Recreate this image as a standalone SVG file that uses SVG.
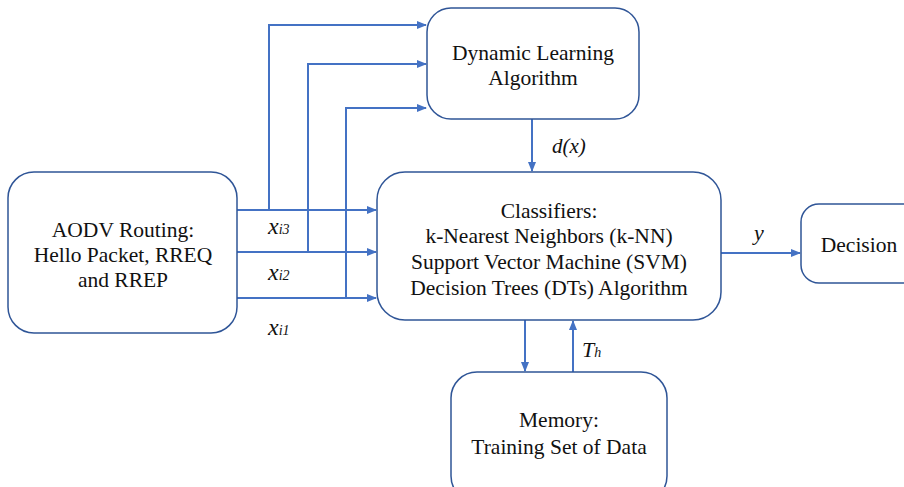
<svg xmlns="http://www.w3.org/2000/svg" width="904" height="487" viewBox="0 0 904 487">
<defs>
<marker id="ah" markerWidth="10" markerHeight="8" refX="9" refY="4" orient="auto" markerUnits="userSpaceOnUse">
<path d="M0,0 L10,4 L0,8 Z" fill="#4472C4"/>
</marker>
<style>
.box{fill:#fff;stroke:#2F5597;stroke-width:1.5}
.t{font-family:"Liberation Serif","Times New Roman",serif;font-size:21.5px;fill:#111;text-anchor:middle}
.i{font-family:"Liberation Serif","Times New Roman",serif;font-style:italic;fill:#111}
.c{fill:none;stroke:#4472C4;stroke-width:2}
</style>
</defs>
<rect width="904" height="487" fill="#fff"/>
<g id="connectors">
<path class="c" d="M237,210 H376" marker-end="url(#ah)"/>
<path class="c" d="M237,252 H376" marker-end="url(#ah)"/>
<path class="c" d="M237,298 H376" marker-end="url(#ah)"/>
<path class="c" d="M269,210 V25 H426" marker-end="url(#ah)"/>
<path class="c" d="M308,252 V64 H426" marker-end="url(#ah)"/>
<path class="c" d="M346,298 V108 H426" marker-end="url(#ah)"/>
<path class="c" d="M532,119 V171" marker-end="url(#ah)"/>
<path class="c" d="M525,320 V371" marker-end="url(#ah)"/>
<path class="c" d="M573,372 V321" marker-end="url(#ah)"/>
<path class="c" d="M721,253 H800" marker-end="url(#ah)"/>
</g>
<g id="labels">
<text class="i" x="268" y="234"><tspan font-size="24">x</tspan><tspan font-size="14">i3</tspan></text>
<text class="i" x="268" y="280"><tspan font-size="24">x</tspan><tspan font-size="14">i2</tspan></text>
<text class="i" x="268" y="335"><tspan font-size="24">x</tspan><tspan font-size="14">i1</tspan></text>
<text class="i" x="552" y="153" font-size="21">d(x)</text>
<text class="i" x="582" y="357"><tspan font-size="22">T</tspan><tspan font-size="14">h</tspan></text>
<text class="i" x="754" y="240" font-size="22">y</text>
</g>
<g id="aodv">
<rect class="box" x="8" y="172" width="229" height="161" rx="26"/>
<text class="t" x="123" y="237">AODV Routing:</text>
<text class="t" x="123" y="262">Hello Packet, RREQ</text>
<text class="t" x="123" y="287">and RREP</text>
</g>
<g id="dynamic">
<rect class="box" x="427" y="8" width="212" height="111" rx="24"/>
<text class="t" x="533" y="60">Dynamic Learning</text>
<text class="t" x="533" y="85">Algorithm</text>
</g>
<g id="classifiers">
<rect class="box" x="377" y="172" width="344" height="148" rx="28"/>
<text class="t" x="549" y="218">Classifiers:</text>
<text class="t" x="549" y="243">k-Nearest Neighbors (k-NN)</text>
<text class="t" x="549" y="269">Support Vector Machine (SVM)</text>
<text class="t" x="549" y="295">Decision Trees (DTs) Algorithm</text>
</g>
<g id="decision">
<rect class="box" x="801" y="204" width="120" height="79" rx="18"/>
<text class="t" x="859" y="252">Decision</text>
</g>
<g id="memory">
<rect class="box" x="451" y="372" width="216" height="130" rx="26"/>
<text class="t" x="559" y="427">Memory:</text>
<text class="t" x="559" y="454">Training Set of Data</text>
</g>
</svg>
